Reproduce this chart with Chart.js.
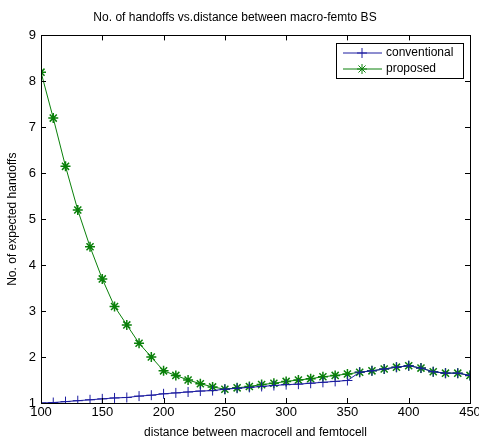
<!DOCTYPE html>
<html>
<head>
<meta charset="utf-8">
<script src="https://cdn.jsdelivr.net/npm/chart.js@4"></script>
<style>
  html, body { margin: 0; padding: 0; background: #fff; }
  #wrap { width: 479px; height: 441px; }
</style>
</head>
<body>
<div id="wrap"><canvas id="chart"></canvas></div>
<script>
    // data
    const distances = [100, 110, 120, 130, 140, 150, 160, 170, 180, 190, 200, 210, 220, 230, 240, 250, 260, 270,
      280, 290, 300, 310, 320, 330, 340, 350, 360, 370, 380, 390, 400, 410, 420, 430, 440, 450];
    const conventional = [1.0, 1.01, 1.03, 1.05, 1.07, 1.09, 1.11, 1.12, 1.15, 1.17, 1.2, 1.22, 1.24, 1.26, 1.27, 1.3, 1.32, 1.34,
      1.36, 1.38, 1.4, 1.41, 1.43, 1.45, 1.47, 1.49, 1.67, 1.7, 1.74, 1.78, 1.81, 1.76, 1.68, 1.65, 1.65, 1.6];
    const proposed = [8.2, 7.2, 6.15, 5.2, 4.4, 3.7, 3.1, 2.7, 2.3, 2.0, 1.7, 1.6, 1.5, 1.42, 1.35, 1.3, 1.33, 1.36,
      1.4, 1.43, 1.47, 1.5, 1.53, 1.57, 1.6, 1.63, 1.67, 1.7, 1.74, 1.78, 1.81, 1.76, 1.68, 1.65, 1.65, 1.6];
    const xTicks = [100, 150, 200, 250, 300, 350, 400, 450];
    const yTicks = [1, 2, 3, 4, 5, 6, 7, 8, 9];

    const blue = '#1c1ca0';
    const green = '#0a800a';
    const fontFamily = '"Liberation Sans", Arial, sans-serif';

    // MATLAB style box with inward ticks, plus the boxed legend
    const matlabBox = {
      id: 'matlabBox',
      afterDraw(chart) {
        const c = chart.ctx;
        const a = chart.chartArea;
        const xs = chart.scales.x, ys = chart.scales.y;
        c.save();
        c.strokeStyle = '#000';
        c.lineWidth = 1;
        c.strokeRect(Math.round(a.left) + 0.5, Math.round(a.top) + 0.5,
          Math.round(a.right - a.left), Math.round(a.bottom - a.top));
        c.beginPath();
        xTicks.forEach(v => {
          const px = Math.round(xs.getPixelForValue(v)) + 0.5;
          c.moveTo(px, a.bottom); c.lineTo(px, a.bottom - 5);
          c.moveTo(px, a.top); c.lineTo(px, a.top + 5);
        });
        yTicks.forEach(v => {
          const py = Math.round(ys.getPixelForValue(v)) + 0.5;
          c.moveTo(a.left, py); c.lineTo(a.left + 5, py);
          c.moveTo(a.right, py); c.lineTo(a.right - 5, py);
        });
        c.stroke();

        // legend
        const lx = Math.round(a.right) - 134, ly = Math.round(a.top) + 8, lw = 127, lh = 35;
        c.fillStyle = '#fff';
        c.fillRect(lx, ly, lw, lh);
        c.strokeRect(lx + 0.5, ly + 0.5, lw, lh);
        c.font = '12px ' + fontFamily;
        c.textBaseline = 'middle';
        chart.data.datasets.forEach((ds, i) => {
          const y = ly + 10 + i * 16;
          c.strokeStyle = ds.borderColor;
          c.beginPath();
          c.moveTo(lx + 7, y); c.lineTo(lx + 46, y);
          c.stroke();
          c.strokeStyle = ds.borderColor;
          Chart.helpers.drawPoint(c, {
            pointStyle: ds.pointStyle, radius: ds.pointRadius, borderWidth: ds.pointBorderWidth
          }, lx + 26, y);
          c.fillStyle = '#000';
          c.fillText(ds.label, lx + 50, y);
        });
        c.restore();
      }
    };

    const ctx = document.getElementById('chart').getContext('2d');
    const chart = new Chart(ctx, {
      type: 'line',
      data: {
        labels: distances,
        datasets: [{
          label: 'conventional',
          data: distances.map((d, i) => ({ x: d, y: conventional[i] })),
          borderColor: blue,
          backgroundColor: blue,
          borderWidth: 1,
          pointStyle: 'cross',
          pointRadius: 5,
          pointBorderWidth: 1,
          tension: 0
        }, {
          label: 'proposed',
          data: distances.map((d, i) => ({ x: d, y: proposed[i] })),
          borderColor: green,
          backgroundColor: green,
          borderWidth: 1,
          pointStyle: 'star',
          pointRadius: 5,
          pointBorderWidth: 1.5,
          tension: 0
        }]
      },
      options: {
        responsive: true,
        maintainAspectRatio: false,
        animation: false,
        layout: { padding: { left: 0, right: 9, top: 0, bottom: 0 } },
        scales: {
          x: {
            type: 'linear',
            min: 100,
            max: 450,
            afterBuildTicks: s => { s.ticks = xTicks.map(v => ({ value: v })); },
            afterFit: s => { s.height = 38; s.paddingLeft = 0; s.paddingRight = 0; },
            grid: { display: false, drawTicks: false },
            border: { display: false },
            ticks: { color: '#000', padding: 2, maxRotation: 0, font: { size: 13, family: fontFamily } },
            title: {
              display: true,
              text: 'distance between macrocell and femtocell',
              color: '#000',
              padding: { top: 0, bottom: 1 },
              font: { size: 12, family: fontFamily }
            }
          },
          y: {
            min: 1,
            max: 9,
            afterBuildTicks: s => { s.ticks = yTicks.map(v => ({ value: v })); },
            afterFit: s => { s.width = 41; s.paddingTop = 0; s.paddingBottom = 0; },
            grid: { display: false, drawTicks: false },
            border: { display: false },
            ticks: { color: '#000', padding: 5, font: { size: 13, family: fontFamily } },
            title: {
              display: true,
              text: 'No. of expected handoffs',
              color: '#000',
              padding: { top: 5, bottom: 0 },
              font: { size: 12, family: fontFamily }
            }
          }
        },
        plugins: {
          legend: { display: false },
          tooltip: { enabled: false },
          title: {
            display: true,
            text: 'No. of handoffs vs.distance between macro-femto BS',
            color: '#000',
            padding: { top: 10, bottom: 11 },
            font: { size: 12, weight: 'normal', family: fontFamily }
          }
        }
      },
      plugins: [matlabBox]
    });
</script>
</body>
</html>
